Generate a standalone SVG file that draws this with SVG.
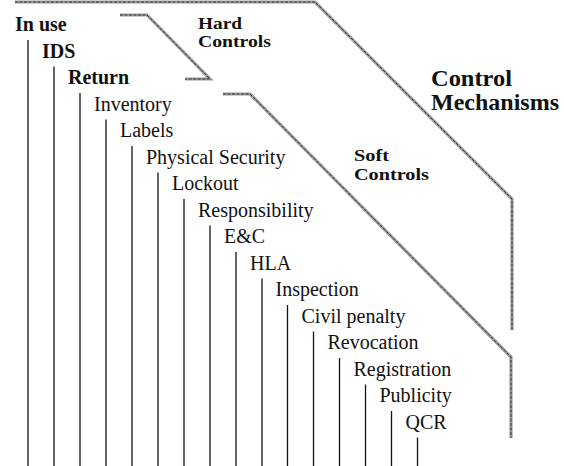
<svg xmlns="http://www.w3.org/2000/svg" width="564" height="466" viewBox="0 0 564 466">
  <style>
    .lbl { font-family: "Liberation Serif", "Times New Roman", serif; font-size: 20px; fill: #111; }
    .b { font-weight: bold; }
    .cap { font-family: "Liberation Serif", "Times New Roman", serif; font-weight: bold; fill: #111; }
    .stem { stroke: #111; stroke-width: 1.3; fill: none; }
    .band { fill: none; stroke: #9c9c9c; stroke-width: 3.2; stroke-linejoin: miter; }
    .band-core { fill: none; stroke: #333; stroke-width: 1; stroke-dasharray: 3 1.5; }
  </style>

  <!-- grouping brackets -->
  <g id="brackets">
    <g id="control-mechanisms-bracket">
      <path class="band" d="M15,2 H315 L512,199 V330"/>
      <path class="band-core" d="M15,2 H315 L512,199 V330"/>
    </g>
    <g id="hard-controls-bracket">
      <path class="band" d="M120,15 H147 L210,79 H185"/>
      <path class="band-core" d="M120,15 H147 L210,79 H185"/>
    </g>
    <g id="soft-controls-bracket">
      <path class="band" d="M223,94 H250 L511,357 V438"/>
      <path class="band-core" d="M223,94 H250 L511,357 V438"/>
    </g>
  </g>

  <!-- group captions -->
  <g id="hard-controls">
    <text class="cap" x="198" y="28.5" font-size="17" textLength="44" lengthAdjust="spacingAndGlyphs">Hard</text>
    <text class="cap" x="198" y="47" font-size="17" textLength="73" lengthAdjust="spacingAndGlyphs">Controls</text>
  </g>
  <g id="control-mechanisms">
    <text class="cap" x="431" y="86" font-size="23" textLength="81" lengthAdjust="spacingAndGlyphs">Control</text>
    <text class="cap" x="431" y="110" font-size="23" textLength="128" lengthAdjust="spacingAndGlyphs">Mechanisms</text>
  </g>
  <g id="soft-controls">
    <text class="cap" x="354" y="161" font-size="17" textLength="35" lengthAdjust="spacingAndGlyphs">Soft</text>
    <text class="cap" x="354" y="179.5" font-size="17" textLength="75" lengthAdjust="spacingAndGlyphs">Controls</text>
  </g>

  <!-- vertical stems running down from each item -->
  <g id="connectors">
    <line class="stem" x1="28" y1="40" x2="28" y2="466"/>
    <line class="stem" x1="54" y1="66.5" x2="54" y2="466"/>
    <line class="stem" x1="80" y1="93" x2="80" y2="466"/>
    <line class="stem" x1="106" y1="119.5" x2="106" y2="466"/>
    <line class="stem" x1="132" y1="146" x2="132" y2="466"/>
    <line class="stem" x1="158" y1="172.5" x2="158" y2="466"/>
    <line class="stem" x1="184" y1="199" x2="184" y2="466"/>
    <line class="stem" x1="210" y1="225.5" x2="210" y2="466"/>
    <line class="stem" x1="236" y1="252" x2="236" y2="466"/>
    <line class="stem" x1="262" y1="278.5" x2="262" y2="466"/>
    <line class="stem" x1="287.5" y1="305" x2="287.5" y2="466"/>
    <line class="stem" x1="313.5" y1="331.5" x2="313.5" y2="466"/>
    <line class="stem" x1="339.5" y1="358" x2="339.5" y2="466"/>
    <line class="stem" x1="365.5" y1="384.5" x2="365.5" y2="466"/>
    <line class="stem" x1="391.5" y1="411" x2="391.5" y2="466"/>
    <line class="stem" x1="417.5" y1="437.5" x2="417.5" y2="466"/>
  </g>

  <!-- items -->
  <g id="in-use"><text class="lbl b" x="15" y="31">In use</text></g>
  <g id="ids"><text class="lbl b" x="42" y="57.5">IDS</text></g>
  <g id="return"><text class="lbl b" x="68" y="84">Return</text></g>
  <g id="inventory"><text class="lbl" x="94" y="110.5">Inventory</text></g>
  <g id="labels"><text class="lbl" x="120" y="137">Labels</text></g>
  <g id="physical-security"><text class="lbl" x="146" y="163.5">Physical Security</text></g>
  <g id="lockout"><text class="lbl" x="172" y="190">Lockout</text></g>
  <g id="responsibility"><text class="lbl" x="198" y="216.5">Responsibility</text></g>
  <g id="ec"><text class="lbl" x="224" y="243">E&amp;C</text></g>
  <g id="hla"><text class="lbl" x="250" y="269.5">HLA</text></g>
  <g id="inspection"><text class="lbl" x="275.5" y="296">Inspection</text></g>
  <g id="civil-penalty"><text class="lbl" x="301.5" y="322.5">Civil penalty</text></g>
  <g id="revocation"><text class="lbl" x="327.5" y="349">Revocation</text></g>
  <g id="registration"><text class="lbl" x="353.5" y="375.5">Registration</text></g>
  <g id="publicity"><text class="lbl" x="379.5" y="402">Publicity</text></g>
  <g id="qcr"><text class="lbl" x="405.5" y="428.5">QCR</text></g>
</svg>
